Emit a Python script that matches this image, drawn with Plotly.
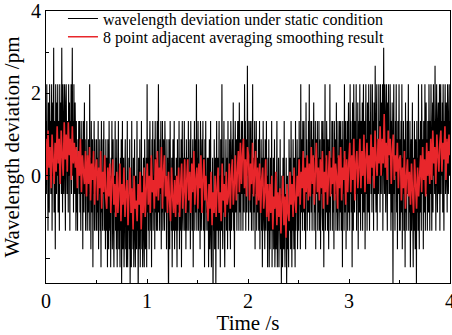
import numpy as np
import plotly.graph_objects as go

# ---- data (quantised wavelength deviation in pm) ----
black_values = [
    1.33, -0.44, 2.22, 0, 0.89, -1.33, 1.78, 0.44, -0.89, 2.22, 0.44, 1.33, -0.44, 0.89, 2.22, -1.33, 0.44, 1.78, 0, 3.11, -0.89, 1.33, 0.44, -1.78, 2.22,
    0.89, -0.44, 1.78, 0, 2.22, -0.89, 1.33, 0.44, -1.33, 2.22, 0.89, 0, 1.78, -0.44, 3.11, 0.44, -0.89, 2.22, 1.33, -0.44, 0.89, 2.22, 0, -1.33, 1.78,
    2.22, 0.44, -0.44, 1.33, 0.89, -0.89, 2.22, 0, 1.78, -1.33, 1.33, 0.44, 2.22, -0.44, 0.89, 3.11, 0, 1.33, -0.89, 2.22, 0.44, -0.44, 1.78, 0.89, -1.33,
    1.33, -0.89, 0.44, -1.33, 0.89, 0, 1.33, -0.44, 1.33, -0.89, 0.44, -1.33, 1.33, 0, -0.44, 0.89, -1.78, 1.33, 0.44, -0.89, 1.78, -0.44, 0.89, -1.33, 0.44,
    -0.44, 1.33, -1.33, 0.44, -0.89, 0.89, 0, -1.33, 2.22, -0.44, 0.44, -1.78, 1.33, -0.89, 0, 0.89, -2.22, 0.44, -0.44, 1.33, -1.33, 0.89, -0.44, 0, -1.33,
    0.89, -1.33, 0.44, -0.89, 1.33, -1.78, 0, -0.44, 0.89, -1.33, 0.44, -2.22, 1.33, -0.89, 0, -1.33, 0.89, -0.44, 1.33, -1.33, -0.44, 0.44, -1.78, 0.89, -0.89,
    -1.33, 0.44, -2.22, 0.89, -0.89, -1.78, 1.33, -0.44, -1.33, 0, -2.22, 0.44, -0.89, 1.33, -1.78, -0.44, 0.89, -1.33, -2.22, 0, -0.89, 1.33, -1.33, 0.44, -1.78,
    0.89, -2.22, -0.44, -1.33, 1.33, -1.78, 0, -0.89, -2.22, 0.44, -1.33, 0.89, -2.67, -0.44, 1.33, -1.78, -0.89, 0.44, -2.22, -1.33, 0, 0.89, -1.78, -0.44, -2.22,
    -0.89, 1.33, -2.22, -0.44, -1.33, 0.44, -1.78, 0.89, -2.67, -0.89, 0, -2.22, 1.33, -1.33, -0.44, -1.78, 0.44, -2.22, -0.89, 0.89, -1.33, -2.22, 0, -0.89, -1.78,
    1.33, -1.33, -0.44, -3.11, 0.44, -1.78, -0.89, 0.89, -2.22, -0.44, -1.33, 1.33, -1.78, 0, -2.22, -0.89, 0.44, -1.33, -2.22, 0.89, -0.44, -1.78, -0.89, 0.44, -2.22,
    2.22, -0.89, 0.44, -1.33, 0.89, -1.78, 0, 1.33, -0.44, -1.33, 0.44, -2.22, 0.89, -0.89, 1.33, -1.33, 0, -0.44, 0.89, -1.78, 1.33, -0.89, 0.44, -1.33, 0,
    1.33, -1.33, 0.44, 2.22, -0.89, 0, -1.33, 0.89, -0.44, 1.33, -1.78, 0.44, -0.89, 1.33, -1.33, 0, 0.89, -0.44, -1.33, 1.33, 0.44, -0.89, 0, -1.78, 0.89,
    -0.89, 0.44, -1.33, -3.11, 0.89, -0.44, -1.78, 1.33, -0.89, 0, -1.33, 0.44, -2.22, -0.44, 0.89, -1.33, -0.89, 1.33, -1.78, 0, -0.44, -1.33, 0.44, -0.89, -2.22,
    0.89, -1.33, 0, -0.89, 1.33, -1.78, 0.44, -0.44, -1.33, 0.89, -2.22, 0, 1.33, -0.89, -1.33, 0.44, -0.44, 1.33, -1.33, -0.89, 0.44, -1.78, 0.89, -0.44, -1.33,
    0.44, -0.89, 1.33, -1.33, 0, -0.44, 0.89, -1.78, 1.33, -0.89, 0.44, -1.33, 0, 0.89, -2.22, 0.44, -0.44, 1.33, -1.33, 0, 0.89, -0.89, 2.22, -1.33, 0.44,
    -0.44, 1.33, -1.33, 0.89, -0.89, 0, -1.78, 1.33, 0.44, -1.33, -0.44, 0.89, -0.89, 1.33, -1.33, 0, 0.44, -2.22, 0.89, -0.44, 1.33, -1.33, 0, -0.89, 0.44,
    -1.33, 0.44, -2.22, -0.44, 0.89, -1.78, -0.89, 1.33, -1.33, -2.22, 0, -0.89, 0.44, -3.11, -0.44, -1.33, 0.89, -1.78, -0.89, 0.44, -2.67, -0.44, 1.33, -1.33, -0.89,
    0.44, -1.78, -0.44, 1.33, -1.33, 0, -2.22, 0.89, -0.89, -1.33, 2.22, -0.44, -1.78, 0.44, -0.89, 1.33, -1.33, -2.22, 0, -0.44, 0.89, -1.33, -0.89, 0.44, -1.78,
    1.33, -0.89, 0, -1.33, 0.89, -0.44, -1.78, 1.33, 0.44, -1.33, -0.44, 0.89, -0.89, 1.78, -1.33, 0, -2.22, 0.44, 1.33, -0.89, -0.44, 0.89, -1.33, 0, 1.33,
    -0.44, 1.33, -1.33, 1.78, 0, -0.89, 0.89, -1.33, 1.33, 0.44, -0.44, 1.33, -1.33, 0.89, 0, -0.89, 2.22, -0.44, 1.33, -1.33, 0.44, 0.89, -0.89, 2.67, 0,
    1.33, -1.33, 0.44, -0.44, 1.33, -0.89, 0, 1.33, -1.33, 0.89, -0.44, 2.22, -1.33, 0.44, 0, -0.89, 1.33, -1.78, 0.89, -0.44, 1.33, -1.33, 0, 0.44, -0.89,
    0.89, -1.33, -0.44, 1.33, -1.78, 0, -0.89, 0.89, -1.33, 0.44, -2.22, -0.44, 1.33, -0.89, -1.33, 0.44, -1.78, 0.89, -0.44, -1.33, 1.33, -0.89, 0, -2.22, 0.44,
    -1.33, 0.89, -2.22, -0.44, -1.78, 0.44, -1.33, -0.89, 1.33, -2.22, -0.44, -1.33, 0.44, -1.78, -0.89, 0.89, -2.22, -1.33, 0, -1.78, -0.44, 1.33, -2.22, -0.89, -1.33,
    0.44, -2.22, -0.89, -1.33, 0.89, -1.78, -0.44, -2.67, 0, -1.33, -2.22, 0.44, -0.89, -1.78, 1.33, -1.33, -2.22, -0.44, -0.89, 0.44, -2.67, -1.33, 0, -1.78, -0.89,
    -2.22, 0.89, -0.89, -1.33, 0.44, -1.78, 1.33, -0.44, -2.22, 0, -1.33, 0.89, -0.89, -1.78, 0.44, -0.44, -2.22, 1.33, -1.33, 0, -0.89, 0.89, -1.78, -0.44, 0.44,
    -1.33, 1.33, -0.44, 0.44, -1.78, 2.22, -0.89, 0, 0.89, -1.33, 1.33, -0.44, -0.89, 1.33, -1.33, 0.44, 0, -1.78, 1.78, -0.44, 0.89, -1.33, 0.44, -0.89, 1.33,
    -0.89, 2.22, -1.33, 0.44, 0, 1.33, -0.89, 1.33, -1.33, 0.89, -0.44, 0, 1.78, -1.33, 0.44, -0.89, 1.33, -1.78, 0.89, 0, -0.44, 1.33, -1.33, 0.44, -0.89,
    1.33, -1.33, 0, 0.89, -1.78, 0.44, -0.44, 1.33, -0.89, -1.33, 1.33, 0, -2.22, 0.89, -0.44, 2.22, -1.33, 0.44, -0.89, 1.33, 0, -1.33, 0.89, -0.44, -1.78,
    0.89, -0.89, 2.22, -1.33, 0.44, 0, -0.44, 1.33, -1.33, 1.33, -0.89, 0.44, -1.78, 1.33, 0, -0.44, 0.89, -1.33, 1.78, -0.89, 0.44, -1.33, 1.33, 0, -0.44,
    -1.33, 1.33, 0.44, -0.89, 1.33, -1.33, 0, 0.89, -2.22, 1.33, -0.44, 0.44, -1.33, 2.22, -0.89, 0, 1.33, -1.78, 0.89, -0.44, 1.33, -1.33, 0.44, 1.78, -0.89,
    0.44, -1.33, 2.22, -0.44, 1.33, -0.89, 0.89, -2.22, 1.78, 0, -1.33, 2.22, 0.44, -0.89, 1.33, -0.44, 0, 2.22, -1.33, 0.89, -0.44, 1.78, -1.78, 0.44, 1.33,
    -0.89, 2.22, 0, -1.33, 1.33, 0.44, -0.44, 1.78, -1.33, 0.89, 2.22, -0.89, 0, 1.33, -1.78, 0.44, 2.22, -0.44, 0.89, -1.33, 1.78, 0, -0.89, 2.22, 0.44,
    -1.33, 1.33, 0.44, 2.22, -0.44, 0.89, -0.89, 2.22, 0, 1.33, -1.33, 1.78, 0.44, -0.44, 2.67, 0, -0.89, 1.33, 2.22, -1.33, 0.89, 0.44, -0.44, 2.22, 0,
    1.33, -0.89, 2.22, 0.44, -0.44, 1.78, 0, 2.22, -1.33, 0.89, 3.11, 0.44, -0.44, 2.22, 1.33, -0.89, 0.89, 2.22, 0, -1.33, 1.78, 0.44, 2.22, -0.44, 0.89,
    -0.44, 2.22, 0.44, -1.33, 1.33, -0.89, 1.78, 0, -2.67, 0.89, 2.22, -0.44, 0.44, -1.33, 1.33, 0, 2.22, -0.89, 0.89, -1.78, 1.33, 0.44, -0.44, 2.22, -1.33,
    0.89, -1.33, 0, 1.33, -0.89, 2.22, -1.78, 0.44, -0.44, 1.33, -1.33, 0, 0.89, -2.22, 1.78, -0.89, 0.44, -1.33, 1.33, -0.44, 0, 2.22, -1.33, 0.44, -0.89,
    1.33, -2.22, -0.44, 0.89, -1.33, 0, 1.78, -0.89, -2.22, 0.44, -1.33, 1.33, -0.44, -1.78, 0.89, 0, -2.67, 1.33, -0.89, 0.44, -1.33, 2.22, -0.44, -1.78, 0.89,
    -0.89, 1.33, 0, -1.33, 2.22, 0.44, -0.44, 0.89, -1.78, 1.33, 0, -0.89, 2.22, -1.33, 0.44, 1.78, -0.44, 0.89, -1.33, 1.33, 0, -0.89, 2.22, 0.44, -1.33,
    1.33, -0.44, 2.22, 0.44, -1.33, 0.89, 1.78, -0.89, 2.22, 0, 1.33, -0.44, 2.67, 0.44, -1.33, 0.89, 2.22, 0, -0.89, 1.33, 1.78, -0.44, 0.44, 2.22, -1.33,
    0.89, 2.22, -0.44, 1.33, 0, 1.78, -0.89, 2.22, 0.44, -1.33, 1.33, 0.89, 2.22, -0.44, 0, 1.78, 0.44, -0.89, 2.22, 1.33, -0.44, 0.89, 2.22, 0, 1.33,
]

red_values = [
    0.9, -0.1, 1.1, 0.2, 0.7, -0.3, 1.0, 0.4, -0.2, 0.8,
    0.1, 1.2, 0.3, 0.9, -0.2, 1.1, 0.5, 0.0, 1.3, 0.4,
    1.0, 0.1, 1.3, 0.5, 0.9, -0.1, 1.2, 0.3, 0.8, 0.2,
    0.7, -0.3, 0.6, 0.0, 0.9, -0.4, 0.5, 0.1, -0.2, 0.6,
    -0.5, 0.5, -0.2, 0.7, -0.6, 0.3, -0.1, 0.6, -0.7, 0.2,
    0.4, -0.6, 0.2, -0.3, 0.6, -0.8, 0.1, -0.4, 0.5, -0.5,
    -0.8, 0.2, -0.5, 0.3, -0.9, -0.1, 0.4, -0.7, -0.2, -1.0,
    0.1, -0.9, -0.3, 0.3, -1.1, -0.2, -0.7, 0.2, -1.0, -0.4,
    -0.1, -1.2, -0.4, 0.2, -0.9, -0.3, -1.3, 0.0, -0.8, -0.6,
    -1.1, -0.2, -0.7, 0.1, -1.3, -0.4, -0.9, 0.2, -1.0, -0.3,
    0.3, -0.7, 0.0, -0.9, 0.5, -0.4, -0.1, -0.8, 0.4, -0.5,
    0.6, -0.6, 0.2, -0.3, 0.7, -0.8, 0.1, 0.5, -0.5, 0.0,
    -0.9, 0.1, -0.6, -1.1, 0.2, -0.5, -0.9, -0.1, -1.0, 0.0,
    -0.7, 0.2, -1.0, -0.2, 0.3, -0.8, -0.4, 0.4, -0.9, -0.1,
    0.4, -0.6, 0.1, -0.9, 0.3, -0.4, 0.6, -0.7, -0.1, 0.2,
    -0.8, 0.3, -0.3, 0.5, -0.9, -0.1, 0.4, -0.6, 0.0, -0.7,
    -1.1, -0.2, -0.8, 0.1, -1.2, -0.4, -0.9, 0.0, -1.0, -0.3,
    0.2, -0.9, -0.4, -1.1, 0.3, -0.6, -0.2, -1.0, 0.1, -0.7,
    -0.5, 0.3, -0.8, 0.0, 0.4, -0.7, -0.2, 0.5, -0.6, 0.1,
    0.6, -0.4, 0.8, -0.2, 0.5, 0.9, -0.3, 0.4, -0.5, 0.7,
    0.5, -0.6, 0.3, -0.2, 0.8, -0.5, 0.1, 0.6, -0.7, 0.2,
    -0.6, 0.3, -0.9, -0.1, 0.2, -0.8, -0.4, 0.4, -1.0, -0.2,
    -1.1, -0.2, -0.9, 0.0, -1.3, -0.5, -0.8, 0.1, -1.2, -0.4,
    -1.0, -0.3, -1.4, -0.6, 0.0, -1.2, -0.5, -1.5, -0.2, -0.9,
    -1.1, 0.1, -0.7, -0.2, -1.0, 0.2, -0.6, -0.9, 0.0, -0.5,
    0.4, -0.7, 0.1, -0.3, 0.6, -0.8, 0.2, -0.4, 0.5, -0.6,
    0.3, -0.5, 0.7, -0.2, 0.5, -0.7, 0.1, 0.8, -0.4, 0.2,
    -0.6, 0.4, -0.3, 0.6, -0.8, 0.1, -0.4, 0.5, -0.7, 0.0,
    0.6, -0.5, 0.2, -0.2, 0.7, -0.6, 0.3, 0.0, -0.8, 0.5,
    -0.3, 0.7, -0.6, 0.2, -0.1, 0.6, -0.7, 0.4, -0.4, 0.3,
    0.8, -0.4, 0.5, -0.1, 0.9, -0.6, 0.3, 0.6, -0.3, 0.2,
    0.9, -0.3, 0.6, 0.0, 1.0, -0.4, 0.4, 0.8, -0.2, 0.5,
    -0.2, 1.0, 0.2, 0.7, -0.3, 1.1, 0.4, 0.0, 0.9, 0.3,
    1.2, 0.0, 0.9, 0.3, 1.5, 0.2, 0.8, -0.1, 1.1, 0.5,
    0.9, -0.2, 0.6, 1.0, -0.1, 0.5, 0.1, 0.8, -0.3, 0.4,
    0.5, -0.6, 0.2, -0.3, 0.6, -0.8, 0.0, 0.4, -0.5, 0.1,
    -0.7, 0.3, -0.4, -0.9, 0.4, -0.2, -0.8, 0.2, -0.5, 0.0,
    0.5, -0.4, 0.7, -0.1, 0.4, -0.5, 0.8, 0.0, 0.6, -0.2,
    0.9, -0.1, 1.1, 0.3, 0.7, -0.2, 1.0, 0.5, 0.1, 0.8,
    1.1, 0.1, 0.8, 0.4, 1.2, -0.1, 0.9, 0.3, 1.0, 0.5,
]

T_END = 4.0  # total record length, s
x_ticks = [0, 1, 2, 3, 4]
x_tick_text = ["0", "1", "2", "3", "4"]
y_ticks = [-2, 0, 2, 4]
y_tick_text = ["", "0", "2", "4"]

black_name = "wavelength deviation under static condition"
red_name = "8 point adjacent averaging smoothing result"

t_black = np.linspace(0, T_END, len(black_values))
t_red = np.linspace(0, T_END, len(red_values))

FONT = "Liberation Serif, DejaVu Serif, serif"

fig = go.Figure()
fig.add_trace(go.Scatter(x=t_black, y=black_values, mode="lines", name=black_name,
                         line=dict(color="black", width=1.1, simplify=False),
                         legend="legend"))
fig.add_trace(go.Scatter(x=t_red, y=red_values, mode="lines", name=red_name,
                         line=dict(color="#e8262b", width=1.6, simplify=False),
                         legend="legend2"))

legend_common = dict(xanchor="left", yanchor="middle", bgcolor="rgba(0,0,0,0)",
                     borderwidth=0, font=dict(family=FONT, size=16, color="black"))

fig.update_layout(
    width=452, height=335,
    margin=dict(l=46, r=2, t=9, b=52),
    paper_bgcolor="white", plot_bgcolor="white",
    font=dict(family=FONT, color="black"),
    showlegend=True,
    legend=dict(x=0.042, y=0.972, **legend_common),
    legend2=dict(x=0.042, y=0.905, **legend_common),
)
fig.update_xaxes(
    range=[0, T_END], tickmode="array", tickvals=x_ticks, ticktext=x_tick_text,
    ticks="inside", ticklen=4, tickcolor="black", tickwidth=1,
    minor=dict(tickvals=[0.5, 1.5, 2.5, 3.5], ticks="inside", ticklen=3, tickcolor="black"),
    showline=True, linecolor="black", linewidth=1, mirror=True,
    showgrid=False, zeroline=False, automargin=False, ticklabeloverflow="allow",
    tickfont=dict(family=FONT, size=20),
    title=dict(text="Time /s", font=dict(family=FONT, size=21), standoff=6),
)
fig.update_yaxes(
    range=[-2.6, 4.0], tickmode="array", tickvals=y_ticks, ticktext=y_tick_text,
    ticks="inside", ticklen=4, tickcolor="black", tickwidth=1,
    minor=dict(tickvals=[-1, 1, 3], ticks="inside", ticklen=3, tickcolor="black"),
    showline=True, linecolor="black", linewidth=1, mirror=True,
    showgrid=False, zeroline=False, automargin=False,
    tickfont=dict(family=FONT, size=20),
    title=dict(text="Wavelength deviation /pm", font=dict(family=FONT, size=21), standoff=6),
)

# remove the browser's default 8px page margin so the figure sits at the window origin
fig.write_html("out.html", config={"displayModeBar": False},
               post_script="document.body.style.margin='0';")
